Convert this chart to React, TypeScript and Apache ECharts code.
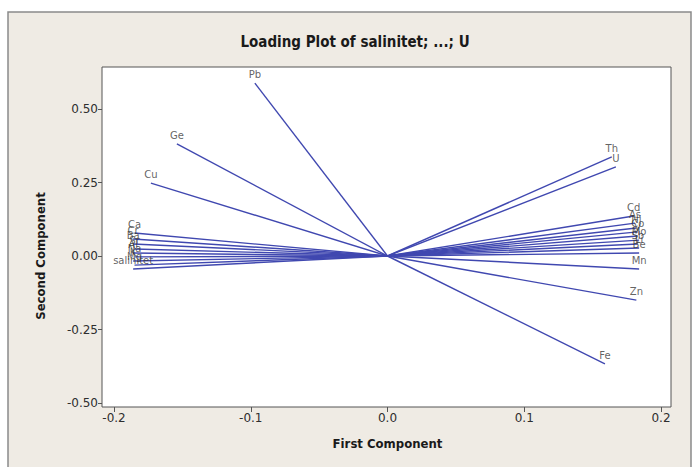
import React, { useEffect, useRef } from "react";
import * as echarts from "echarts";

const names = [
  "Pb", "Ge", "Cu", "Th", "U", "Zn", "Fe",
  "Ca", "Cr", "Ba", "Sr", "Al", "Na", "K", "Mg", "salinitet",
  "Cd", "As", "Ni", "Co", "V", "Mo", "Sb", "Li", "Be", "Mn",
];
const firstComp = [
  -0.097, -0.154, -0.173, 0.164, 0.167, 0.182, 0.159,
  -0.185, -0.186, -0.186, -0.185, -0.186, -0.185, -0.186, -0.185, -0.186,
  0.180, 0.181, 0.182, 0.183, 0.183, 0.184, 0.183, 0.184, 0.184, 0.184,
];
const secondComp = [
  0.588, 0.381, 0.248, 0.337, 0.303, -0.150, -0.367,
  0.078, 0.058, 0.041, 0.024, 0.010, -0.003, -0.017, -0.031, -0.044,
  0.136, 0.112, 0.095, 0.082, 0.068, 0.054, 0.041, 0.027, 0.010, -0.044,
];
const xTicks = [-0.2, -0.1, 0.0, 0.1, 0.2];
const yTicks = [-0.5, -0.25, 0.0, 0.25, 0.5];

const LINE = "#4048b0";
const FONT = "DejaVu Sans";
const COND = "'DejaVu Sans Condensed', 'Liberation Sans Narrow', 'DejaVu Sans', sans-serif";

export default function App() {
  const ref = useRef<HTMLDivElement>(null);
  useEffect(() => {
    if (!ref.current) return;
    const chart = echarts.init(ref.current, undefined, { renderer: "svg" });
    const lineSeries = names.map((n, i) => ({
      type: "line",
      name: n,
      data: [
        [0, 0],
        [firstComp[i], secondComp[i]],
      ],
      showSymbol: false,
      symbol: "none",
      clip: false,
      lineStyle: { color: LINE, width: 1.4 },
      silent: true,
      z: 2,
    }));
    const labelSeries = {
      type: "scatter",
      clip: false,
      data: names.map((n, i) => ({ value: [firstComp[i], secondComp[i]], name: n })),
      symbolSize: 1,
      itemStyle: { color: "rgba(0,0,0,0)" },
      label: {
        show: true,
        position: "top",
        distance: 3,
        formatter: (p: any) => p.name,
        fontFamily: FONT,
        fontSize: 10,
        color: "#3a3a3a",
      },
      labelLayout: { hideOverlap: false },
      z: 3,
    };
    const axisCommon = {
      type: "value",
      axisLine: { show: false, onZero: false },
      axisTick: { show: true, length: 5, lineStyle: { color: "#555" } },
      splitLine: { show: false },
    };
    chart.setOption({
      animation: false,
      backgroundColor: "#ffffff",
      graphic: [
        {
          type: "rect",
          shape: { x: 8, y: 12, width: 683, height: 470 },
          style: { fill: "#efebe4", stroke: "#8a8a8a", lineWidth: 1.5 },
          z: -10,
          silent: true,
        },
        {
          type: "rect",
          shape: { x: 102, y: 67, width: 569, height: 340 },
          style: { fill: "#ffffff", stroke: "#555555", lineWidth: 1 },
          z: -5,
          silent: true,
        },
        {
          type: "text",
          x: 355,
          y: 42,
          style: {
            text: "Loading Plot of salinitet; ...; U",
            fontFamily: COND,
            fontWeight: "bold",
            fontSize: 15,
            fill: "#1a1a1a",
            align: "center",
            verticalAlign: "middle",
          },
        },
      ],
      grid: { left: 114, top: 109, width: 547, height: 294, containLabel: false },
      xAxis: {
        ...axisCommon,
        min: xTicks[0],
        max: xTicks[xTicks.length - 1],
        interval: 0.1,
        offset: 4,
        name: "First Component",
        nameLocation: "middle",
        nameGap: 30,
        nameTextStyle: { fontFamily: COND, fontWeight: "bold", fontSize: 13, color: "#1a1a1a" },
        axisLabel: {
          fontFamily: FONT,
          fontSize: 12,
          color: "#2e2e2e",
          margin: 5,
          formatter: (v: number) => v.toFixed(1),
        },
      },
      yAxis: {
        ...axisCommon,
        min: yTicks[0],
        max: yTicks[yTicks.length - 1],
        interval: 0.25,
        offset: 12,
        axisTick: { show: true, length: 4, lineStyle: { color: "#555" } },
        name: "Second Component",
        nameLocation: "middle",
        nameGap: 55,
        nameRotate: 90,
        nameTextStyle: { fontFamily: COND, fontWeight: "bold", fontSize: 13, color: "#1a1a1a" },
        axisLabel: {
          fontFamily: FONT,
          fontSize: 12,
          color: "#2e2e2e",
          margin: 4,
          formatter: (v: number) => v.toFixed(2),
        },
      },
      series: [...lineSeries, labelSeries],
    });
    return () => chart.dispose();
  }, []);
  return (
    <div
      ref={ref}
      style={{ position: "fixed", left: 0, top: 0, width: 699, height: 467 }}
    />
  );
}
